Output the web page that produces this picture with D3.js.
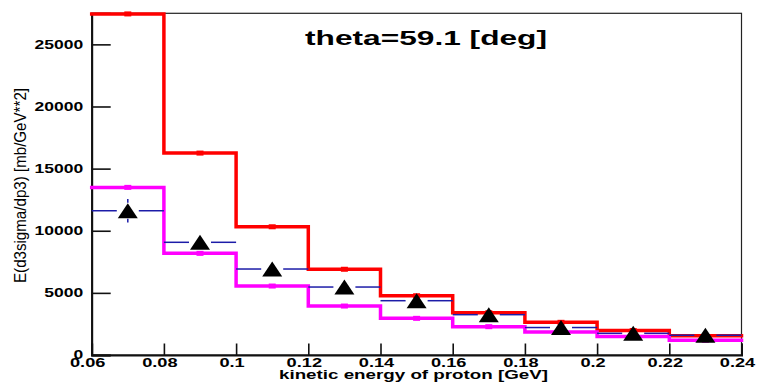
<!DOCTYPE html>
<html>
<head>
<meta charset="utf-8">
<script src="https://cdn.jsdelivr.net/npm/d3@7"></script>
<style>
  html, body { margin: 0; padding: 0; background: #fff; }
  svg { display: block; }
  text { font-family: "Liberation Sans", Arial, Helvetica, sans-serif; fill: #000; }
</style>
</head>
<body>
<svg id="chart" width="757" height="383"></svg>
<script>
// Bin edges of the kinetic-energy histogram [GeV]
const binEdges = [0.06, 0.08, 0.10, 0.12, 0.14, 0.16, 0.18, 0.20, 0.22, 0.24];
// Model curves (per bin)
const redValues = [27450, 16250, 10320, 6900, 4770, 3400, 2630, 1970, 1545];
const magentaValues = [13490, 8180, 5550, 3940, 2950, 2280, 1850, 1490, 1185];
// Measured points (bin centres) and their errors
const dataValues = [11610, 9070, 6920, 5470, 4370, 3245, 2210, 1745, 1590];
const dataErrors = [950, 500, 400, 300, 250, 200, 150, 120, 100];
// Axes
const xTicks = [0.06, 0.08, 0.10, 0.12, 0.14, 0.16, 0.18, 0.20, 0.22, 0.24];
const xTickLabels = ["0.06", "0.08", "0.1", "0.12", "0.14", "0.16", "0.18", "0.2", "0.22", "0.24"];
const xMinorTicks = [0.065, 0.07, 0.075, 0.085, 0.09, 0.095, 0.105, 0.11, 0.115, 0.125, 0.13, 0.135,
  0.145, 0.15, 0.155, 0.165, 0.17, 0.175, 0.185, 0.19, 0.195, 0.205, 0.21, 0.215, 0.225, 0.23, 0.235];
const yTicks = [0, 5000, 10000, 15000, 20000, 25000];
const yTickLabels = ["0", "5000", "10000", "15000", "20000", "25000"];
const yMinorTicks = [1000, 2000, 3000, 4000, 6000, 7000, 8000, 9000, 11000, 12000, 13000, 14000,
  16000, 17000, 18000, 19000, 21000, 22000, 23000, 24000, 26000, 27000];
const xDomain = [0.06, 0.24];
const yDomain = [0, 27500];
const titleText = "theta=59.1 [deg]";
const xTitle = "kinetic energy of proton [GeV]";
const yTitle = "E(d3sigma/dp3) [mb/GeV**2]";

const frame = { left: 91.7, right: 741.5, top: 13.3, bottom: 355 };
const STRETCH = 1.4; // horizontal glyph stretch of the labels

const svg = d3.select("#chart");
const x = d3.scaleLinear().domain(xDomain).range([frame.left, frame.right]);
const y = d3.scaleLinear().domain(yDomain).range([frame.bottom, frame.top]);

function stretch(sel, factor) {
  sel.each(function () {
    const w = this.getComputedTextLength();
    d3.select(this).attr("textLength", w * factor).attr("lengthAdjust", "spacingAndGlyphs");
  });
}

// Frame
svg.append("rect")
  .attr("x", frame.left).attr("y", frame.top)
  .attr("width", frame.right - frame.left).attr("height", frame.bottom - frame.top)
  .attr("fill", "none").attr("stroke", "#222").attr("stroke-width", 1.2);

// Y axis: major and minor ticks pointing inside the frame
const yAxisG = svg.append("g").attr("transform", `translate(${frame.left},0)`);
yAxisG.call(d3.axisLeft(y).tickValues(yMinorTicks).tickSize(-10).tickFormat(""));
yAxisG.call(d3.axisLeft(y).tickValues(yTicks).tickSize(-19).tickFormat(""));
yAxisG.selectAll("line").attr("stroke", "#111").attr("stroke-width", 1.6);
yAxisG.select(".domain").attr("stroke", "#111").attr("stroke-width", 2);
const yLab = svg.append("g").selectAll("text").data(yTicks).join("text")
  .attr("x", frame.left - 8.5)
  .attr("y", d => y(d) + 4.3)
  .attr("text-anchor", "end")
  .attr("font-size", 12.5)
  .attr("font-weight", "bold")
  .text((d, i) => yTickLabels[i]);
stretch(yLab, STRETCH);

// X axis: ticks pointing up
const xAxisG = svg.append("g").attr("transform", `translate(0,${frame.bottom})`);
xAxisG.call(d3.axisBottom(x).tickValues(xMinorTicks).tickSize(-6.5).tickFormat(""));
xAxisG.call(d3.axisBottom(x).tickValues(xTicks).tickSize(-11.5).tickFormat(""));
xAxisG.selectAll("line").attr("stroke", "#111").attr("stroke-width", 1.6);
xAxisG.select(".domain").attr("stroke", "#111").attr("stroke-width", 2);
const xLab = svg.append("g").selectAll("text").data(xTicks).join("text")
  .attr("x", d => x(d) - 4)
  .attr("y", 366.5)
  .attr("text-anchor", "middle")
  .attr("font-size", 13)
  .attr("font-weight", "bold")
  .text((d, i) => xTickLabels[i]);
stretch(xLab, STRETCH);

// Axis titles
svg.append("text")
  .attr("x", 413.5).attr("y", 379)
  .attr("text-anchor", "middle")
  .attr("font-size", 12.5).attr("font-weight", "bold")
  .attr("textLength", 269).attr("lengthAdjust", "spacingAndGlyphs")
  .text(xTitle);

svg.append("text")
  .attr("transform", `translate(26,185.5) scale(${STRETCH},1) rotate(-90)`)
  .attr("text-anchor", "middle")
  .attr("font-size", 11.5)
  .attr("textLength", 195).attr("lengthAdjust", "spacingAndGlyphs")
  .text(yTitle);

// Title
svg.append("text")
  .attr("x", 426).attr("y", 44.5)
  .attr("text-anchor", "middle")
  .attr("font-size", 21).attr("font-weight", "bold")
  .attr("textLength", 242).attr("lengthAdjust", "spacingAndGlyphs")
  .text(titleText);

// Histograms drawn as step lines
const stepLine = d3.line().x(d => x(d[0])).y(d => y(d[1])).curve(d3.curveStepAfter);
function histPoints(values) {
  const pts = values.map((v, i) => [binEdges[i], v]);
  pts.push([binEdges[values.length], values[values.length - 1]]);
  return pts;
}
function drawHist(values, color) {
  const g = svg.append("g");
  g.append("path")
    .attr("d", stepLine(histPoints(values)))
    .attr("fill", "none")
    .attr("stroke", color)
    .attr("stroke-width", 3.5)
    .attr("stroke-linecap", "square")
    .attr("stroke-linejoin", "miter");
  g.selectAll("rect").data(values).join("rect")
    .attr("x", (d, i) => x((binEdges[i] + binEdges[i + 1]) / 2) - 3.5)
    .attr("y", d => y(d) - 2.5)
    .attr("width", 7).attr("height", 5)
    .attr("fill", color);
}
drawHist(redValues, "#ff0000");
drawHist(magentaValues, "#ff00ff");

// Measured points: horizontal bin-width bars, vertical errors, triangle markers
const gap = 11, vgap = 8;
const pts = svg.append("g");
dataValues.forEach((v, i) => {
  const x0 = x(binEdges[i]), x1 = x(binEdges[i + 1]);
  const cx = x((binEdges[i] + binEdges[i + 1]) / 2), cy = y(v);
  const blue = "#1c1ca8";
  pts.append("line").attr("x1", x0).attr("x2", cx - gap).attr("y1", cy).attr("y2", cy)
    .attr("stroke", blue).attr("stroke-width", 1.5);
  pts.append("line").attr("x1", cx + gap).attr("x2", x1).attr("y1", cy).attr("y2", cy)
    .attr("stroke", blue).attr("stroke-width", 1.5);
  const yt = y(v + dataErrors[i]), yb = y(v - dataErrors[i]);
  if (yt < cy - vgap) {
    pts.append("line").attr("x1", cx).attr("x2", cx).attr("y1", yt).attr("y2", cy - vgap)
      .attr("stroke", blue).attr("stroke-width", 1.5);
  }
  if (yb > cy + vgap) {
    pts.append("line").attr("x1", cx).attr("x2", cx).attr("y1", cy + vgap).attr("y2", yb)
      .attr("stroke", blue).attr("stroke-width", 1.5);
  }
  pts.append("path")
    .attr("d", `M${cx},${cy - 7.5}L${cx - 10},${cy + 7.5}L${cx + 10},${cy + 7.5}Z`)
    .attr("fill", "#000");
});
</script>
</body>
</html>
